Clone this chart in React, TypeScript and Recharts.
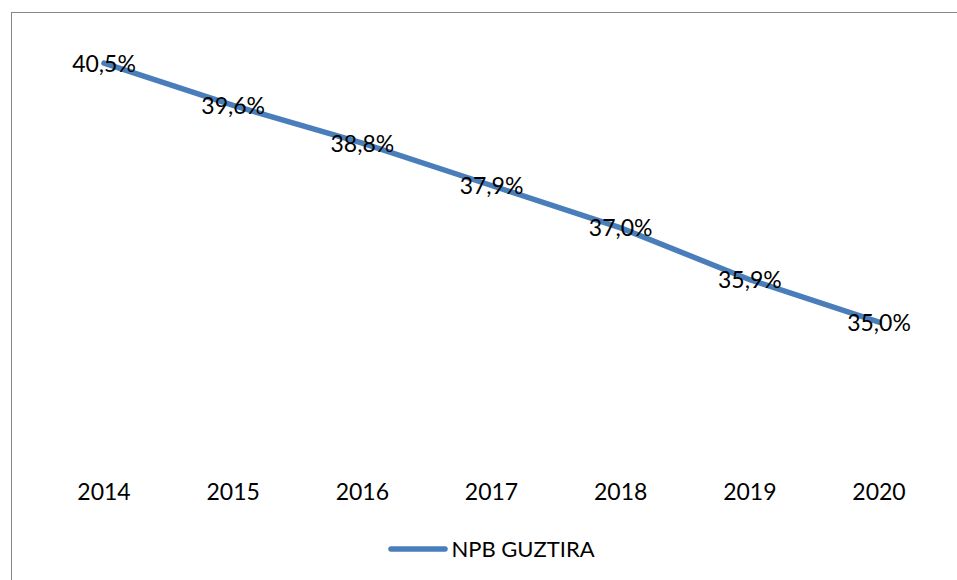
import React from 'react';
import { LineChart, Line, XAxis, YAxis, Legend, LabelList } from 'recharts';

const years = ['2014', '2015', '2016', '2017', '2018', '2019', '2020'];
const npbGuztira = [40.5, 39.6, 38.8, 37.9, 37.0, 35.9, 35.0];

const data = years.map((year, i) => ({ year, value: npbGuztira[i] }));

const FONT = 'Lato, "Open Sans", sans-serif';
const BLUE = '#4A7EBB';

const YearTick: React.FC<any> = ({ x, y, payload }) => (
  <text x={x} y={y + 29} textAnchor="middle" fill="#000" fontSize={23} fontFamily={FONT}>
    {payload.value}
  </text>
);

const ValueLabel: React.FC<any> = ({ x, y, value }) => (
  <text x={x} y={y + 8.5} textAnchor="middle" fill="#000" fontSize={23} fontFamily={FONT}>
    {value.toFixed(1).replace('.', ',')}%
  </text>
);

const LegendContent: React.FC<any> = () => (
  <div style={{ height: 30, display: 'flex', alignItems: 'center', justifyContent: 'center', fontFamily: FONT, fontSize: 22, color: '#000' }}>
    <svg width={60} height={10} style={{ marginRight: 3 }}>
      <line x1={3} y1={5} x2={57} y2={5} stroke={BLUE} strokeWidth={5.5} strokeLinecap="round" />
    </svg>
    <span>NPB GUZTIRA</span>
  </div>
);

export default function App() {
  return (
    <div style={{ position: 'absolute', left: 0, top: 0, width: 957, height: 580, background: '#fff', overflow: 'hidden' }}>
      <div style={{ position: 'absolute', left: 11, top: 12, width: 960, height: 600, borderLeft: '1.5px solid #868686', borderTop: '1.5px solid #868686' }} />
      <LineChart width={957} height={580} data={data} margin={{ top: 39.5, right: 78, left: 104, bottom: 56.6 }}>
        <XAxis dataKey="year" axisLine={false} tickLine={false} interval={0} tick={<YearTick />} height={30} />
        <YAxis hide domain={[32, 41]} />
        <Legend verticalAlign="bottom" content={<LegendContent />} wrapperStyle={{ bottom: 16.5 }} />
        <Line
          type="linear"
          dataKey="value"
          name="NPB GUZTIRA"
          stroke={BLUE}
          strokeWidth={5.5}
          strokeLinecap="round"
          dot={false}
          activeDot={false}
          isAnimationActive={false}
        >
          <LabelList dataKey="value" content={<ValueLabel />} />
        </Line>
      </LineChart>
    </div>
  );
}
